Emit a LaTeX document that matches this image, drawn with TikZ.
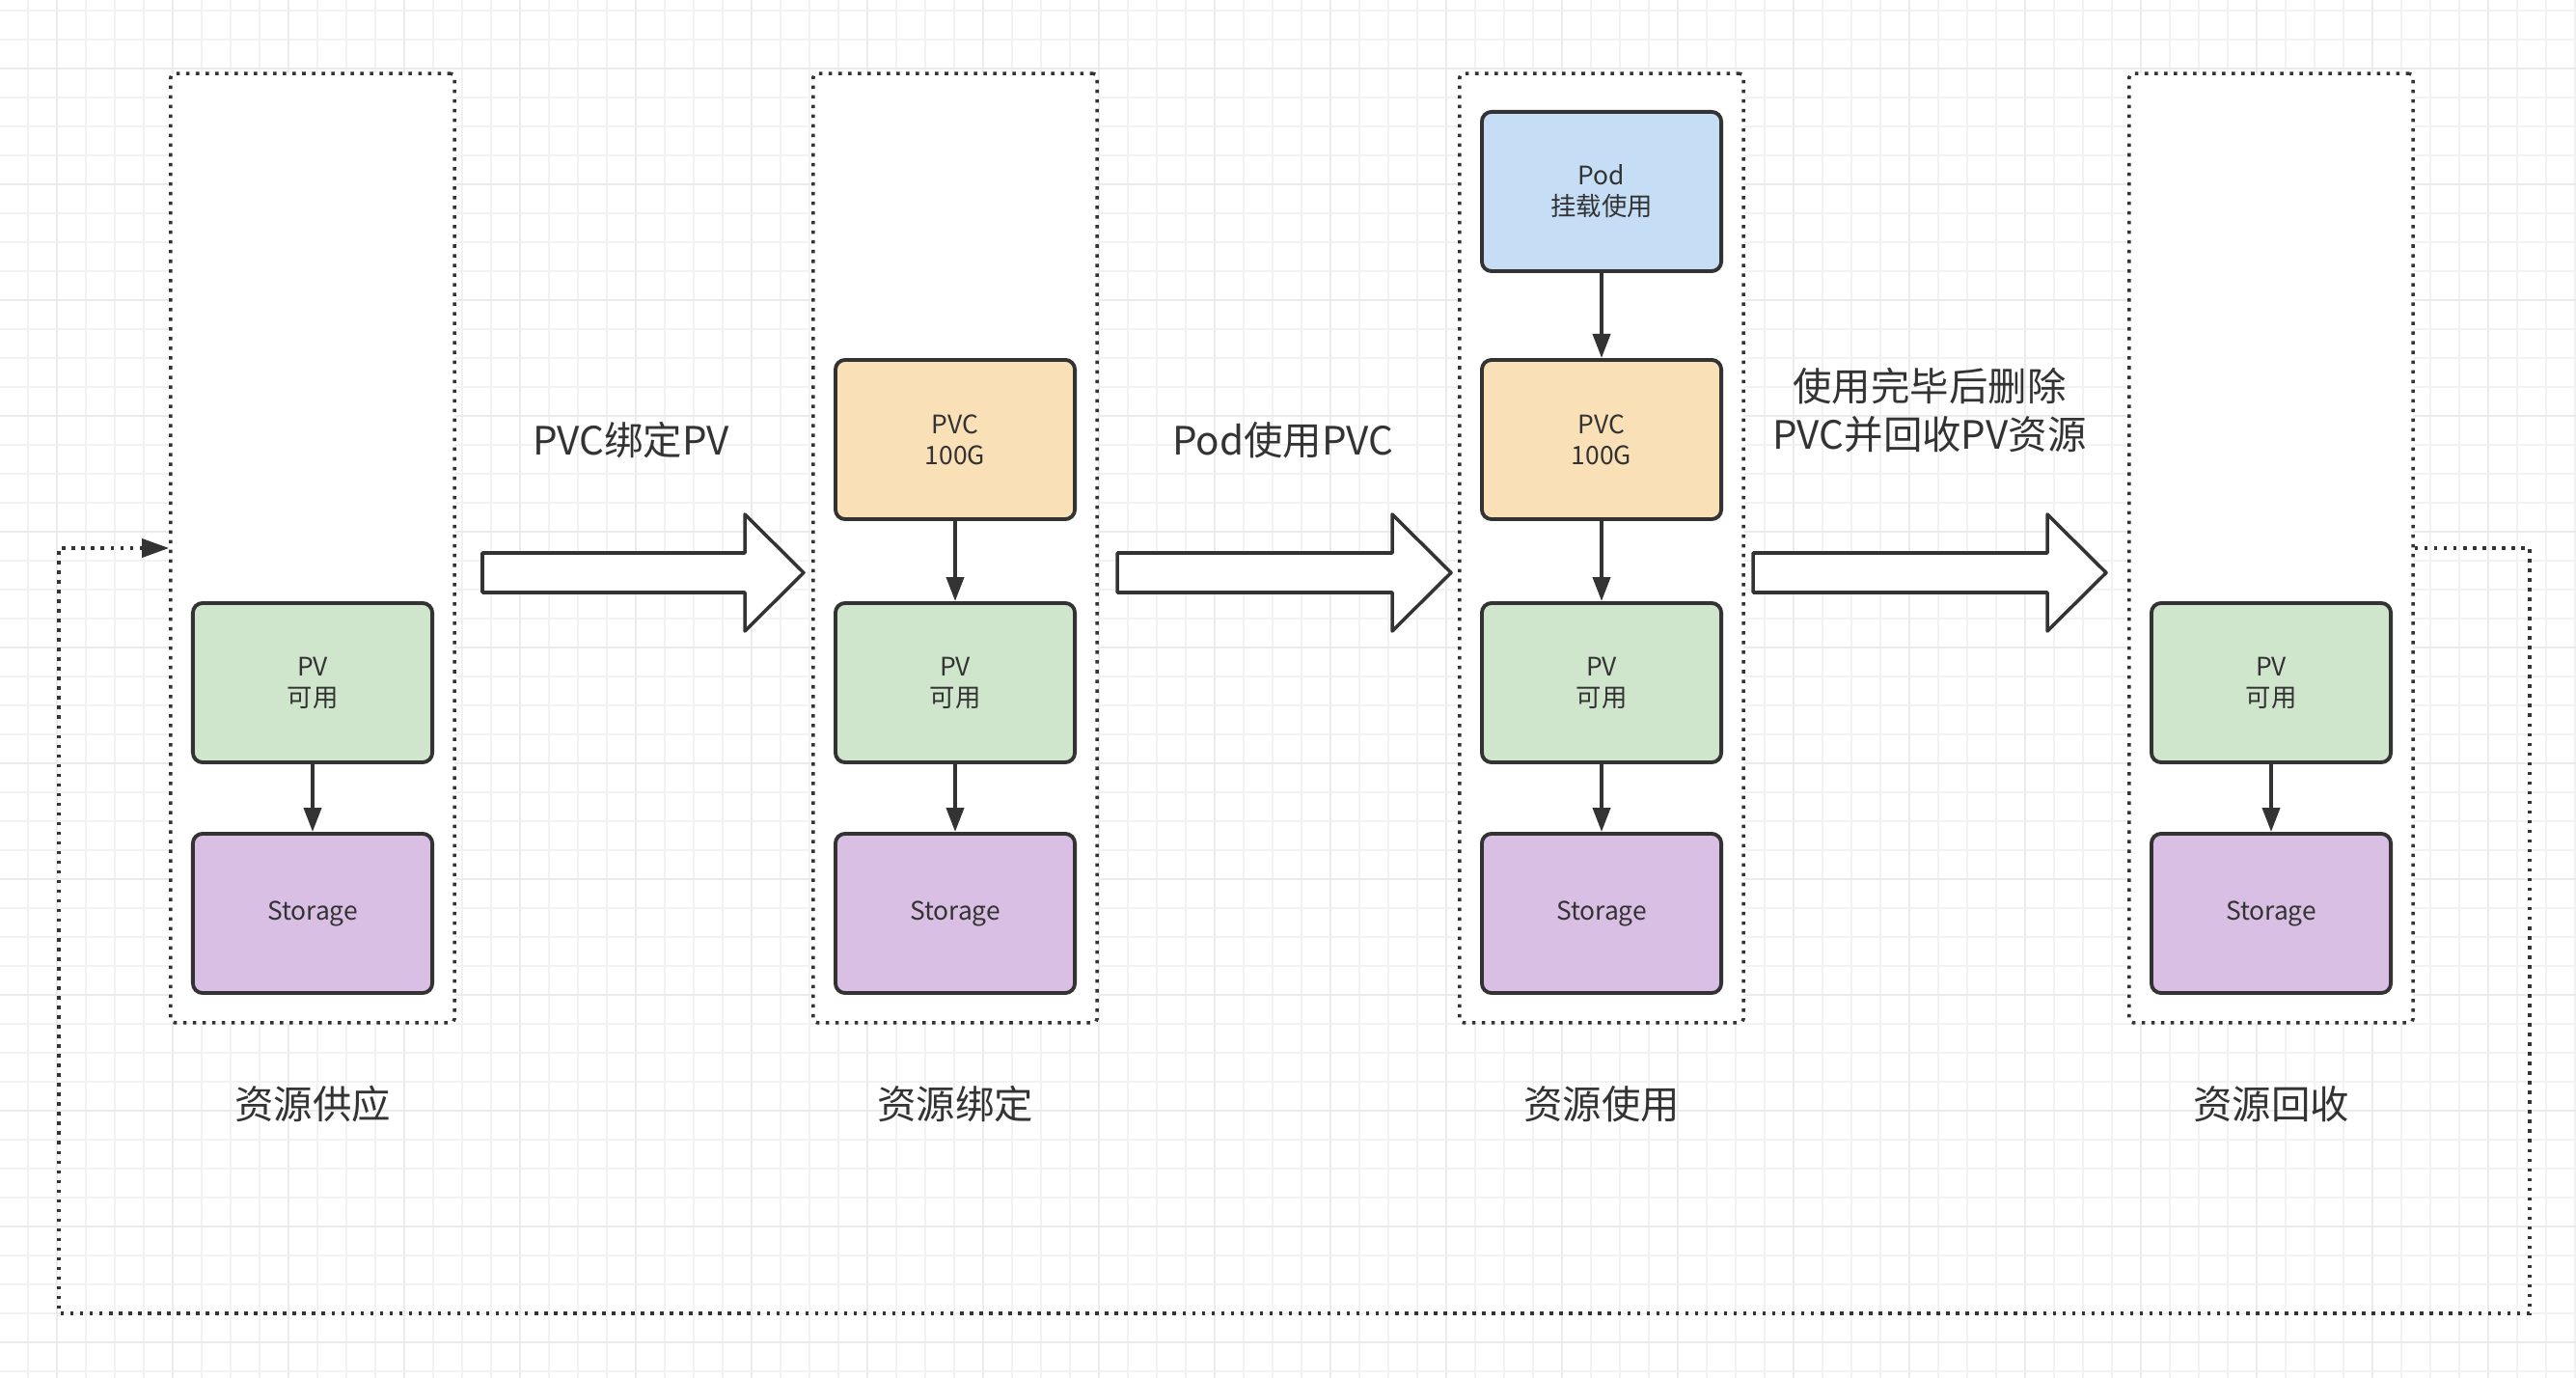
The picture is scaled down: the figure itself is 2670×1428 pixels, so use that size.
\documentclass[tikz,border=0pt]{standalone}
\usepackage{fontspec}
\setmainfont{Noto Sans CJK SC}
\usetikzlibrary{positioning,arrows.meta}
\definecolor{ink}{HTML}{333333}
\definecolor{pvgreen}{HTML}{CFE5CC}
\definecolor{stpurple}{HTML}{DABFE4}
\definecolor{pvcorange}{HTML}{F9E0B7}
\definecolor{podblue}{HTML}{C5DEF6}
\begin{document}
\begin{tikzpicture}[x=0.01cm, y=-0.01cm, every node/.style = {text=ink, align=center}]
			\tikzset{ box/.style = {draw=ink, line width=1.1pt, rounded corners=1mm, minimum width=2.48cm, minimum height=1.65cm, font=\fontsize{7.5}{9.1}\selectfont} }
			\tikzset{ group/.style = {draw=ink, fill=white, line width=1pt, dash pattern=on 1pt off 1.85pt, rounded corners=0.4mm, minimum width=2.94cm, minimum height=9.83cm} }
			\tikzset{ link/.style = {draw=ink, line width=1.1pt, -{Triangle[length=0.25cm, width=0.18cm]}} }
			\tikzset{ loopline/.style = {draw=ink, line width=1pt, dash pattern=on 1pt off 1.85pt, -{Triangle[length=0.28cm, width=0.19cm]}} }
			\tikzset{ fatarrow/.style = {draw=ink, fill=white, line width=1pt, line join=round} }
			\tikzset{ steplabel/.style = {font=\fontsize{11.5}{14.2}\selectfont} }
			\tikzset{ stagelabel/.style = {font=\fontsize{11.5}{14}\selectfont} }
			% canvas and grid
			\fill[white] (0,0) rectangle (2670,1428);
			\useasboundingbox (0,0) rectangle (2670,1428);
			\foreach \x in {-1,29,...,2670} \draw[color=black!5, line width=0.5pt] (\x,0) -- (\x,1428);
			\foreach \y in {11,41,...,1428} \draw[color=black!5, line width=0.5pt] (0,\y) -- (2670,\y);
			\foreach \x in {59,179,...,2670} \draw[color=black!8, line width=0.6pt] (\x,0) -- (\x,1428);
			\foreach \y in {71,191,...,1428} \draw[color=black!8, line width=0.6pt] (0,\y) -- (2670,\y);
			% four stages
			\foreach \n/\x/\t in {1/324/资源供应, 2/990/资源绑定, 3/1660/资源使用, 4/2354/资源回收} {
				\node[group] (g\n) at (\x,568) {};
				\node[box, fill=pvgreen] (pv\n) at (\x,707.5) {PV\\可用};
				\node[box, fill=stpurple, below=0.7cm of pv\n] (st\n) {Storage};
				\draw[link] (pv\n) -- (st\n);
				\node[stagelabel] (lab\n) at (\x,1144) {\t};
			}
			\node[box, fill=pvcorange, above=0.83cm of pv2] (pvc2) {PVC\\100G};
			\node[box, fill=pvcorange, above=0.83cm of pv3] (pvc3) {PVC\\100G};
			\node[box, fill=podblue, above=0.88cm of pvc3] (pod3) {Pod\\挂载使用};
			\draw[link] (pvc2) -- (pv2);
			\draw[link] (pvc3) -- (pv3);
			\draw[link] (pod3) -- (pvc3);
			% block arrows between stages
			\foreach \a/\b in {500/833, 1158/1504, 1817/2183}
				\draw[fatarrow] (\a,573) -- (\b-61,573) -- (\b-61,533) -- (\b,593.5) -- (\b-61,654) -- (\b-61,614) -- (\a,614) -- cycle;
			\node[steplabel] (bind) at (654,456) {PVC绑定PV};
			\node[steplabel] (use) at (1330,456) {Pod使用PVC};
			\node[steplabel] (free) at (2000,425) {使用完毕后删除\\PVC并回收PV资源};
			% recycle loop
			\coordinate (lr) at (2622,1361);
			\coordinate (ll) at (61,1361);
			\draw[loopline] (g4.east) -| (lr) -- (ll) |- (g1.west);
		\end{tikzpicture}
\end{document}
